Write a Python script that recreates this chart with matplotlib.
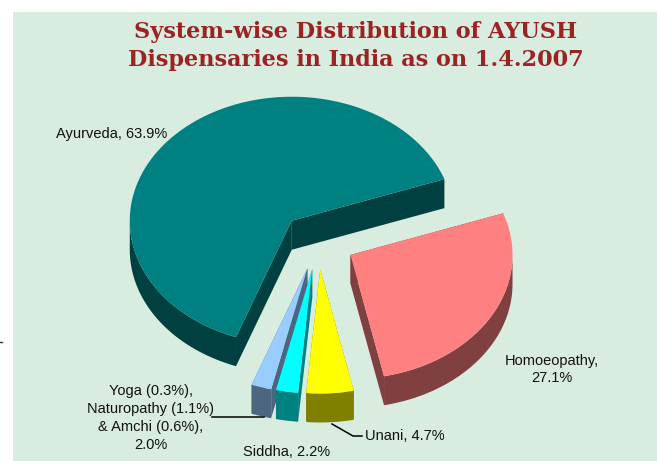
import numpy as np
import matplotlib
matplotlib.use("Agg")
import matplotlib.pyplot as plt
from matplotlib.patches import Polygon

# slices, clockwise from the right hand edge of Ayurveda
systems = ["Homoeopathy", "Unani", "Siddha", "Yoga, Naturopathy & Amchi", "Ayurveda"]
shares = [27.1, 4.7, 2.2, 2.0, 63.9]
top_colors = ["#FF8080", "#FFFF00", "#00FFFF", "#99CCFF", "#008080"]
side_colors = ["#804040", "#808000", "#008080", "#4D6680", "#004040"]

# pie geometry, in pixels of the picture
cx, cy = 318, 241
rx, ry = 162, 124
depth = 29
explode = 0.23
start_angle = 19.6

bg = "#D9ECE0"
title_color = "#9B2423"
label_font = "Liberation Sans"

fig = plt.figure(figsize=(6.57, 4.61), dpi=100)
ax = fig.add_axes([13 / 657, 0, 644 / 657, 449 / 461])
ax.set_xlim(13, 657)
ax.set_ylim(461, 12)
ax.set_facecolor(bg)
for s in ax.spines.values():
    s.set_visible(False)
ax.set_xticks([])
ax.set_yticks([])


def pt(ox, oy, deg):
    rad = np.radians(deg)
    return ox + rx * np.cos(rad), oy - ry * np.sin(rad)


total = sum(shares)
order = [4, 0, 3, 2, 1]
angles = [start_angle]
for v in shares:
    angles.append(angles[-1] - 360 * v / total)

for i in order:
    a0, a1 = angles[i], angles[i + 1]
    mid = np.radians((a0 + a1) / 2)
    ox = cx + explode * rx * np.cos(mid)
    oy = cy - explode * ry * np.sin(mid)
    arc = np.linspace(a0, a1, 200)
    xs, ys = pt(ox, oy, arc)

    # the two cut faces
    for a in (a0, a1):
        ex, ey = pt(ox, oy, a)
        face = [(ox, oy), (ex, ey), (ex, ey + depth), (ox, oy + depth)]
        ax.add_patch(Polygon(face, closed=True, fc=side_colors[i], ec="none"))

    # outer wall, only the part turned to the viewer
    front = np.sin(np.radians(arc)) <= 0
    if front.any():
        wx, wy = xs[front], ys[front]
        wall = list(zip(wx, wy)) + list(zip(wx[::-1], wy[::-1] + depth))
        ax.add_patch(Polygon(wall, closed=True, fc=side_colors[i], ec="none"))

    top = [(ox, oy)] + list(zip(xs, ys))
    ax.add_patch(Polygon(top, closed=True, fc=top_colors[i], ec="none"))

# title
ax.text(356, 32, "System-wise Distribution of AYUSH", ha="center", va="center",
        family="DejaVu Serif", weight="bold", fontsize=16.1, color=title_color)
ax.text(356, 60, "Dispensaries in India as on 1.4.2007", ha="center", va="center",
        family="DejaVu Serif", weight="bold", fontsize=16.1, color=title_color)

# labels
lab = dict(family=label_font, fontsize=10.5, color="#111111", ha="center", va="center")
ax.text(112, 134, "Ayurveda, 63.9%", **lab)
ax.text(552, 369.5, "Homoeopathy,\n27.1%", linespacing=1.36, **lab)
ax.text(151, 418, "Yoga (0.3%),\nNaturopathy (1.1%)\n& Amchi (0.6%),\n2.0%", linespacing=1.36, **lab)
ax.text(287, 452, "Siddha, 2.2%", **lab)
ax.text(405, 436, "Unani, 4.7%", **lab)

# leader lines
ax.plot([212, 264], [417, 417], color="black", lw=1.1)
ax.plot([332, 353, 362], [424, 436, 436], color="black", lw=1.1)

# stray mark at the left edge of the picture
ax.plot([0, 2], [342, 342], color="#333333", lw=1, clip_on=False)

fig.savefig("out.png", dpi=100, facecolor="white")
